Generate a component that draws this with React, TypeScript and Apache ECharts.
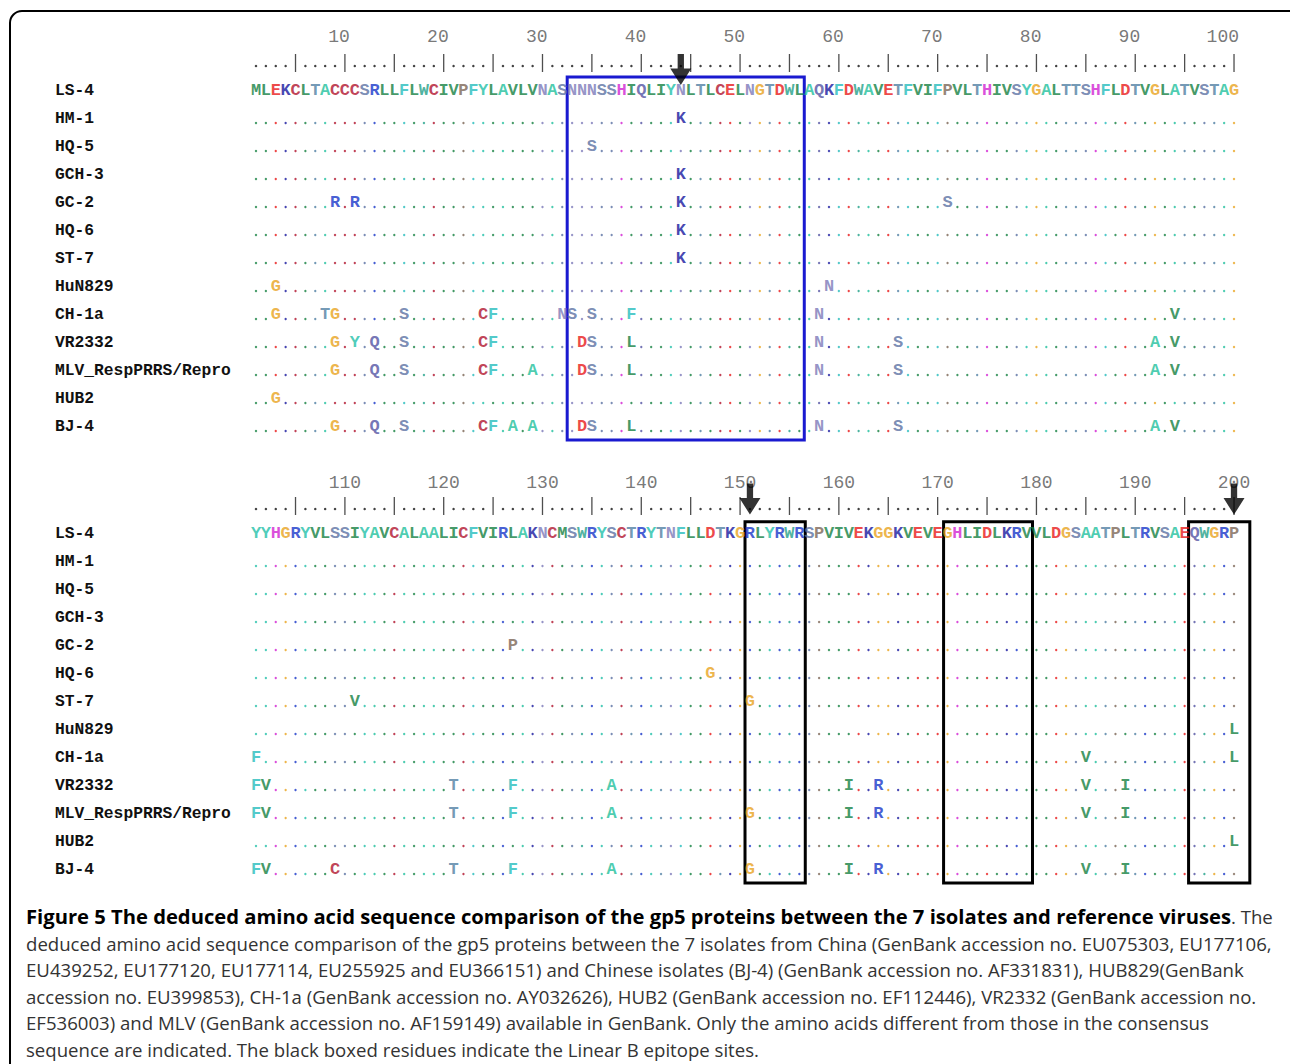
import React, { useEffect, useRef } from 'react';
import * as echarts from 'echarts';

// ---------- data ----------
const refSeq1 = 'MLEKCLTACCCSRLLFLWCIVPFYLAVLVNASNNNSSHIQLIYNLTLCELNGTDWLAQKFDWAVETFVIFPVLTHIVSYGALTTSHFLDTVGLATVSTAG';
const refSeq2 = 'YYHGRYVLSSIYAVCALAALICFVIRLAKNCMSWRYSCTRYTNFLLDTKGRLYRWRSPVIVEKGGKVEVEGHLIDLKRVVLDGSAATPLTRVSAEQWGRP';
const strainNames = ['LS-4', 'HM-1', 'HQ-5', 'GCH-3', 'GC-2', 'HQ-6', 'ST-7', 'HuN829', 'CH-1a', 'VR2332', 'MLV_RespPRRS/Repro', 'HUB2', 'BJ-4'];

const mutHM1: [number, string][] = [[44, 'K']];
const mutHQ5: [number, string][] = [[35, 'S']];
const mutGCH3: [number, string][] = [[44, 'K']];
const mutGC2: [number, string][] = [[9, 'R'], [11, 'R'], [44, 'K'], [71, 'S'], [127, 'P']];
const mutHQ6: [number, string][] = [[44, 'K'], [147, 'G']];
const mutST7: [number, string][] = [[44, 'K'], [111, 'V'], [151, 'G']];
const mutHuN829: [number, string][] = [[3, 'G'], [59, 'N'], [200, 'L']];
const mutCH1a: [number, string][] = [[3, 'G'], [8, 'T'], [9, 'G'], [16, 'S'], [24, 'C'], [25, 'F'], [32, 'N'], [33, 'S'], [35, 'S'], [39, 'F'], [58, 'N'], [94, 'V'], [101, 'F'], [185, 'V'], [200, 'L']];
const mutVR2332: [number, string][] = [[9, 'G'], [11, 'Y'], [13, 'Q'], [16, 'S'], [24, 'C'], [25, 'F'], [34, 'D'], [35, 'S'], [39, 'L'], [58, 'N'], [66, 'S'], [92, 'A'], [94, 'V'], [101, 'F'], [102, 'V'], [121, 'T'], [127, 'F'], [137, 'A'], [161, 'I'], [164, 'R'], [185, 'V'], [189, 'I']];
const mutMLV: [number, string][] = [[9, 'G'], [13, 'Q'], [16, 'S'], [24, 'C'], [25, 'F'], [29, 'A'], [34, 'D'], [35, 'S'], [39, 'L'], [58, 'N'], [66, 'S'], [92, 'A'], [94, 'V'], [101, 'F'], [102, 'V'], [121, 'T'], [127, 'F'], [137, 'A'], [151, 'G'], [161, 'I'], [164, 'R'], [185, 'V'], [189, 'I']];
const mutHUB2: [number, string][] = [[3, 'G'], [200, 'L']];
const mutBJ4: [number, string][] = [[9, 'G'], [13, 'Q'], [16, 'S'], [24, 'C'], [25, 'F'], [27, 'A'], [29, 'A'], [34, 'D'], [35, 'S'], [39, 'L'], [58, 'N'], [66, 'S'], [92, 'A'], [94, 'V'], [101, 'F'], [102, 'V'], [109, 'C'], [121, 'T'], [127, 'F'], [137, 'A'], [151, 'G'], [161, 'I'], [164, 'R'], [185, 'V'], [189, 'I']];
const strainMutations = [[], mutHM1, mutHQ5, mutGCH3, mutGC2, mutHQ6, mutST7, mutHuN829, mutCH1a, mutVR2332, mutMLV, mutHUB2, mutBJ4];

const rulerLabels1 = [10, 20, 30, 40, 50, 60, 70, 80, 90, 100];
const rulerLabels2 = [110, 120, 130, 140, 150, 160, 170, 180, 190, 200];
const arrowSites1 = [44];
const arrowSites2 = [151, 200];
const blueBox: [number, number][] = [[32.5, 56.5]];
const epitopeBoxes: [number, number][] = [[150.5, 156.6], [170.6, 179.6], [195.4, 201.6]];

const captionTitle = 'Figure 5 The deduced amino acid sequence comparison of the gp5 proteins between the 7 isolates and reference viruses';
const captionLines = [
  'deduced amino acid sequence comparison of the gp5 proteins between the 7 isolates from China (GenBank accession no. EU075303, EU177106,',
  'EU439252, EU177120, EU177114, EU255925 and EU366151) and Chinese isolates (BJ-4) (GenBank accession no. AF331831), HUB829(GenBank',
  'accession no. EU399853), CH-1a (GenBank accession no. AY032626), HUB2 (GenBank accession no. EF112446), VR2332 (GenBank accession no.',
  'EF536003) and MLV (GenBank accession no. AF159149) available in GenBank. Only the amino acids different from those in the consensus',
  'sequence are indicated. The black boxed residues indicate the Linear B epitope sites.',
];

const aaColors: Record<string, string> = {
  A: '#1ebf9c', C: '#b0122c', D: '#e81818', E: '#e81818', F: '#24bcbc', G: '#e8a21c',
  H: '#d21fd2', I: '#13803f', K: '#16169e', L: '#13803f', M: '#13803f', N: '#7b78b8',
  P: '#7a6454', Q: '#5252a2', R: '#1634c8', S: '#5a70a2', T: '#4f7ea2', V: '#13803f',
  W: '#1fa088', Y: '#1fbfa8',
};

const PITCH = 9.879;
const SEQ_FONT = 'Liberation Mono';
const ARROW = 'path://M7,0 L13,0 L13,14 L20,14 L10,30 L0,14 L7,14 Z';

function buildBlock(b: number) {
  const ref = b === 0 ? refSeq1 : refSeq2;
  const start = 1 + 100 * b;
  const letters: any[] = [];
  const dots: any[] = [];
  const rulerDots: any[] = [];
  const rulerBars: any[] = [];
  for (let i = 0; i < ref.length; i++) {
    const pos = start + i;
    const ch = ref[i];
    letters.push({ value: [pos, 0], ch, label: { color: aaColors[ch] } });
    if (pos % 5 === 0) rulerBars.push([pos, -1]);
    else rulerDots.push([pos, -1]);
  }
  for (let r = 1; r < strainNames.length; r++) {
    const m = new Map<number, string>(strainMutations[r] as [number, string][]);
    for (let i = 0; i < ref.length; i++) {
      const pos = start + i;
      if (m.has(pos)) {
        const ch = m.get(pos) as string;
        letters.push({ value: [pos, r], ch, label: { color: aaColors[ch] } });
      } else {
        dots.push({ value: [pos, r], itemStyle: { color: aaColors[ref[i]] } });
      }
    }
  }
  return { letters, dots, rulerDots, rulerBars };
}

function App() {
  const ref = useRef<HTMLDivElement>(null);
  useEffect(() => {
    if (!ref.current) return;
    const chart = echarts.init(ref.current, undefined, { renderer: 'svg' });
    const blocks = [buildBlock(0), buildBlock(1)];
    const grids = [
      { left: 256 - 0.5 * PITCH, top: 20, width: 100 * PITCH, height: 420 },
      { left: 256 - 0.5 * PITCH, top: 463, width: 102 * PITCH, height: 420 },
    ];
    const xAxes = [
      { gridIndex: 0, type: 'value', min: 0.5, max: 100.5, show: false },
      { gridIndex: 1, type: 'value', min: 100.5, max: 202.5, show: false },
    ];
    const yAxes: any[] = [];
    [0, 1].forEach((g) => {
      yAxes.push({
        gridIndex: g,
        type: 'category',
        inverse: true,
        data: ['', '', ...strainNames],
        axisLine: { show: false },
        axisTick: { show: false },
        splitLine: { show: false },
        axisLabel: {
          align: 'left',
          margin: grids[g].left - 55,
          fontFamily: SEQ_FONT,
          fontWeight: 'bold',
          fontSize: 16.3,
          color: '#111',
        },
      });
      yAxes.push({ gridIndex: g, type: 'value', inverse: true, min: -2.5, max: 12.5, show: false });
    });

    const series: any[] = [];
    blocks.forEach((blk, b) => {
      const xi = b;
      const yi = 2 * b + 1;
      const boxes = b === 0 ? blueBox : epitopeBoxes;
      const boxColor = b === 0 ? '#1a1ad0' : '#000';
      const yTop = b === 0 ? -0.46 : -0.4;
      const yBot = b === 0 ? 12.86 : 12.64;
      series.push({
        type: 'scatter', xAxisIndex: xi, yAxisIndex: yi, silent: true, z: 3,
        symbolSize: 1, itemStyle: { color: 'transparent' },
        label: {
          show: true, position: 'inside', fontFamily: SEQ_FONT, fontWeight: 'bold', fontSize: 17,
          formatter: (p: any) => p.data.ch,
        },
        data: blk.letters,
        markArea: {
          silent: true,
          label: { show: false },
          itemStyle: { color: 'rgba(0,0,0,0)', borderColor: boxColor, borderWidth: 3 },
          data: boxes.map(([x1, x2]) => [{ coord: [x1, yTop] }, { coord: [x2, yBot] }]),
        },
      });
      series.push({
        type: 'scatter', xAxisIndex: xi, yAxisIndex: yi, silent: true, z: 2,
        symbol: 'circle', symbolSize: 2.4, symbolOffset: [0, 5], data: blk.dots,
      });
      series.push({
        type: 'scatter', xAxisIndex: xi, yAxisIndex: yi, silent: true, z: 2,
        symbol: 'circle', symbolSize: 2.5, symbolOffset: [0, 4], itemStyle: { color: '#111' }, data: blk.rulerDots,
      });
      series.push({
        type: 'scatter', xAxisIndex: xi, yAxisIndex: yi, silent: true, z: 2,
        symbol: 'rect', symbolSize: [1.3, 18], symbolOffset: [0, 1], itemStyle: { color: '#222' }, data: blk.rulerBars,
      });
      const labels = b === 0 ? rulerLabels1 : rulerLabels2;
      series.push({
        type: 'scatter', xAxisIndex: xi, yAxisIndex: yi, silent: true, z: 2,
        symbolSize: 1, itemStyle: { color: 'transparent' },
        label: {
          show: true, position: 'inside', fontFamily: SEQ_FONT, fontSize: 18, color: '#555',
          align: b === 0 ? 'right' : 'center', offset: b === 0 ? [5, 3] : [0, 6],
          formatter: (p: any) => String(p.value[0]),
        },
        data: labels.map((v) => [v, -2]),
      });
      const arrows = b === 0 ? arrowSites1 : arrowSites2;
      series.push({
        type: 'scatter', xAxisIndex: xi, yAxisIndex: yi, silent: true, z: 6,
        symbol: ARROW, symbolSize: [21, 31], itemStyle: { color: '#000' },
        data: arrows.map((p) => [p, b === 0 ? -0.73 : -1.21]),
      });
    });

    const graphic: any[] = [
      {
        type: 'rect', silent: true, z: 10,
        shape: { x: 10, y: 11, width: 1300, height: 1100, r: 12 },
        style: { fill: 'none', stroke: '#000', lineWidth: 2 },
      },
      {
        type: 'text', x: 26, y: 916,
        style: {
          text: '{b|' + captionTitle + '}{n|. The}',
          verticalAlign: 'middle',
          rich: {
            b: { fontFamily: 'Open Sans', fontWeight: 'bold', fontSize: 20.2, fill: '#000', color: '#000' },
            n: { fontFamily: 'Open Sans', fontSize: 18.6, fill: '#333', color: '#333' },
          },
        },
      },
      ...captionLines.map((t, i) => ({
        type: 'text', x: 26, y: 943 + i * 26.5,
        style: { text: t, fontFamily: 'Open Sans', fontSize: 18.6, fill: '#333', verticalAlign: 'middle' },
      })),
    ];

    chart.setOption({
      animation: false,
      backgroundColor: '#fff',
      grid: grids,
      xAxis: xAxes,
      yAxis: yAxes,
      series,
      graphic,
    });
    return () => chart.dispose();
  }, []);
  return <div ref={ref} style={{ position: 'absolute', left: 0, top: 0, width: 1290, height: 1064 }} />;
}

export default App;
